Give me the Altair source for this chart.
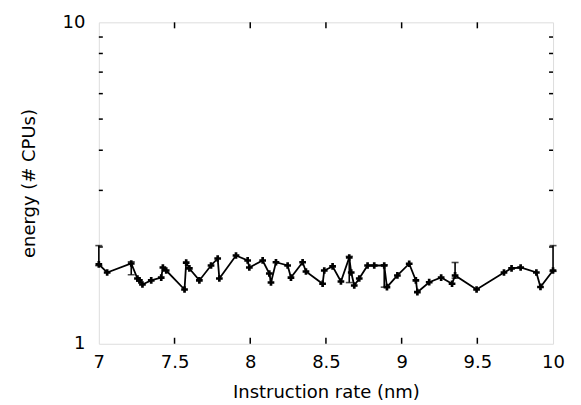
import altair as alt
import pandas as pd

xs = [7.0, 7.055, 7.214, 7.255, 7.268, 7.288, 7.346, 7.412, 7.423, 7.445,
      7.566, 7.577, 7.598, 7.664, 7.741, 7.785, 7.796, 7.906, 7.983, 7.994,
      8.082, 8.126, 8.137, 8.170, 8.247, 8.269, 8.346, 8.368, 8.478, 8.489,
      8.544, 8.599, 8.654, 8.667, 8.687, 8.720, 8.775, 8.819, 8.885, 8.903,
      8.972, 9.050, 9.094, 9.104, 9.182, 9.261, 9.333, 9.353, 9.495, 9.676,
      9.726, 9.786, 9.890, 9.917, 10.0]
ys = [1.765, 1.666, 1.777, 1.596, 1.574, 1.529, 1.574, 1.607, 1.727, 1.690,
      1.475, 1.789, 1.715, 1.574, 1.752, 1.842, 1.596, 1.882, 1.816, 1.727,
      1.816, 1.654, 1.551, 1.793, 1.752, 1.607, 1.793, 1.678, 1.537, 1.690,
      1.740, 1.562, 1.855, 1.666, 1.518, 1.596, 1.752, 1.752, 1.752, 1.500,
      1.631, 1.774, 1.574, 1.447, 1.554, 1.607, 1.537, 1.631, 1.475, 1.666,
      1.715, 1.727, 1.666, 1.502, 1.690]

err_x = [7.0, 7.214, 8.654, 8.885, 9.353, 10.0]
err_lo = [1.75, 1.64, 1.55, 1.50, 1.60, 1.68]
err_hi = [2.02, 1.80, 1.87, 1.76, 1.79, 2.02]

x_ticks = [7.5, 8, 8.5, 9, 9.5]
y_minor = [2, 3, 4, 5, 6, 7, 8, 9]
x_labels = [7, 7.5, 8, 8.5, 9, 9.5, 10]
y_labels = [1, 10]

W, H = 455, 322
FONT = "DejaVu Sans"

df = pd.DataFrame({"x": xs, "y": ys})
edf = pd.DataFrame({"x": err_x, "lo": err_lo, "hi": err_hi})
xt = pd.DataFrame({"t": x_ticks})
yt = pd.DataFrame({"t": y_minor})

xscale = alt.Scale(domain=[7, 10], nice=False, zero=False)
yscale = alt.Scale(type="log", domain=[1, 10], nice=False)

xaxis = alt.Axis(values=x_labels, format="~g", ticks=False, tickSize=0, domain=False,
                 grid=False, labelPadding=10, labelFontSize=18, labelFont=FONT,
                 labelColor="black", title="Instruction rate (nm)", titleFont=FONT,
                 titleFontSize=18, titleFontWeight="normal", titleColor="black",
                 titlePadding=12, labelFlush=False)
yaxis = alt.Axis(values=y_labels, format="~g", ticks=False, tickSize=0, domain=False,
                 grid=False, labelPadding=14, labelFontSize=18, labelFont=FONT,
                 labelColor="black", title="energy (# CPUs)", titleFont=FONT,
                 titleFontSize=18, titleFontWeight="normal", titleColor="black",
                 titlePadding=24, labelFlush=False)

line = alt.Chart(df).mark_line(color="black", strokeWidth=1.8).encode(
    x=alt.X("x:Q", scale=xscale, axis=xaxis),
    y=alt.Y("y:Q", scale=yscale, axis=yaxis),
)
pts = alt.Chart(df).mark_point(shape="cross", filled=True, color="black", size=45, opacity=1).encode(
    x=alt.X("x:Q", scale=xscale), y=alt.Y("y:Q", scale=yscale))

ebar = alt.Chart(edf).mark_rule(color="black", strokeWidth=1.6).encode(
    x=alt.X("x:Q", scale=xscale), y=alt.Y("lo:Q", scale=yscale), y2="hi:Q")
cap_lo = alt.Chart(edf).mark_tick(color="black", orient="horizontal", size=7, thickness=1.6).encode(
    x=alt.X("x:Q", scale=xscale), y=alt.Y("lo:Q", scale=yscale))
cap_hi = alt.Chart(edf).mark_tick(color="black", orient="horizontal", size=7, thickness=1.6).encode(
    x=alt.X("x:Q", scale=xscale), y=alt.Y("hi:Q", scale=yscale))

xt_bot = alt.Chart(xt).mark_rule(color="black", strokeWidth=1.5).encode(
    x=alt.X("t:Q", scale=xscale), y=alt.value(H), y2=alt.value(H - 6))
xt_top = alt.Chart(xt).mark_rule(color="black", strokeWidth=1.5).encode(
    x=alt.X("t:Q", scale=xscale), y=alt.value(0), y2=alt.value(6))
yt_left = alt.Chart(yt).mark_rule(color="black", strokeWidth=1.5).encode(
    y=alt.Y("t:Q", scale=yscale), x=alt.value(0), x2=alt.value(4))
yt_right = alt.Chart(yt).mark_rule(color="black", strokeWidth=1.5).encode(
    y=alt.Y("t:Q", scale=yscale), x=alt.value(W - 4), x2=alt.value(W))

chart = alt.layer(line, ebar, cap_lo, cap_hi, pts, xt_bot, xt_top, yt_left, yt_right).properties(
    width=W, height=H,
    autosize=alt.AutoSizeParams(type="none"),
    padding={"left": 91, "top": 14, "right": 20, "bottom": 60},
).configure_view(stroke="black", strokeWidth=1.8).configure(background="white")

chart.save("out.html", embed_options={"renderer": "svg", "actions": False})
